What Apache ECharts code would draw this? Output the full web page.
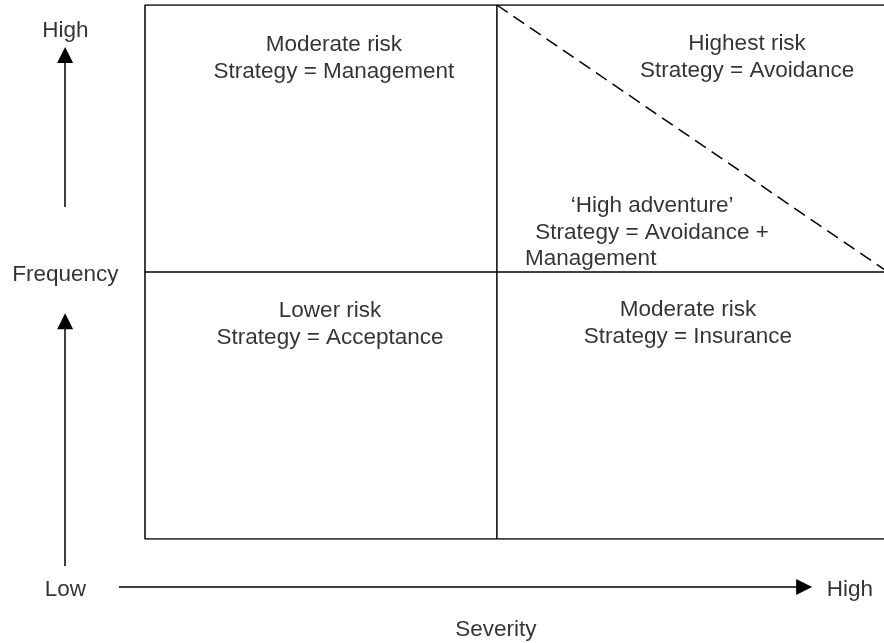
<!DOCTYPE html>
<html>
<head>
<meta charset="utf-8">
<script src="https://cdn.jsdelivr.net/npm/echarts@6/dist/echarts.min.js"></script>
<style>
  html, body { margin: 0; padding: 0; background: #fff; }
  #chart { width: 884px; height: 643px; }
</style>
</head>
<body>
<div id="chart"></div>
<script>
// diagram in axis units: severity 0..2.1 (x), frequency 0..2 (y), quadrant split at 1
const outline = [[2.1, 2], [0, 2], [0, 0], [2.1, 0]];
const splitV = [[1, 0], [1, 2]];
const splitH = [[0, 1], [2.1, 1]];
const diagonal = [[1, 2], [2.1, 1.01]];

const zoneTexts = ["Moderate risk\nStrategy = Management", "Highest risk\nStrategy = Avoidance",
  "\u2018High adventure\u2019\nStrategy = Avoidance +", "Lower risk\nStrategy = Acceptance",
  "Moderate risk\nStrategy = Insurance"];
const zonePoints = [[0.537, 1.801], [1.711, 1.803], [1.441, 1.198], [0.526, 0.805], [1.543, 0.807]];
const extraText = "Management";
const extraPoint = [1.08, 1.05];

const axisTexts = ["High", "Frequency", "Low", "High", "Severity"];
const axisPoints = [[-0.226, 1.904], [-0.226, 0.99], [-0.226, -0.19], [2.003, -0.19], [0.997, -0.339]];

const arrows = [
  [[-0.227, 1.243], [-0.227, 1.813]],
  [[-0.227, -0.101], [-0.227, 0.816]],
  [[-0.074, -0.18], [1.873, -0.18]]
];

const font = { fontFamily: "Liberation Sans, Arial, sans-serif", fontSize: 22.5, color: "#000" };

const chart = echarts.init(document.getElementById("chart"));

const lineSeries = (data, type) => ({
  type: "line",
  data,
  symbol: "none",
  silent: true,
  lineStyle: { color: "#000", width: 1.5, type: type || "solid" }
});

const textSeries = (names, points, align) => ({
  type: "scatter",
  symbolSize: 0,
  silent: true,
  clip: false,
  data: names.map((n, i) => ({ name: n, value: points[i] })),
  label: {
    show: true,
    position: "inside",
    align: align || "center",
    verticalAlign: "middle",
    lineHeight: 27,
    formatter: (p) => p.name,
    ...font
  }
});

chart.setOption({
  animation: false,
  backgroundColor: "#fff",
  grid: { left: 145, top: 5, right: 0, bottom: 104 },
  xAxis: { type: "value", min: 0, max: 2.1, show: false },
  yAxis: { type: "value", min: 0, max: 2, show: false },
  series: [
    lineSeries(outline),
    lineSeries(splitV),
    lineSeries(splitH),
    lineSeries(diagonal, [13, 7]),
    {
      type: "lines",
      coordinateSystem: "cartesian2d",
      clip: false,
      silent: true,
      symbol: ["none", "triangle"],
      symbolSize: 16,
      lineStyle: { color: "#000", width: 1.5, opacity: 1 },
      data: arrows.map((c) => ({ coords: c }))
    },
    textSeries(zoneTexts, zonePoints),
    textSeries([extraText], [extraPoint], "left"),
    textSeries(axisTexts, axisPoints)
  ]
});
</script>
</body>
</html>
